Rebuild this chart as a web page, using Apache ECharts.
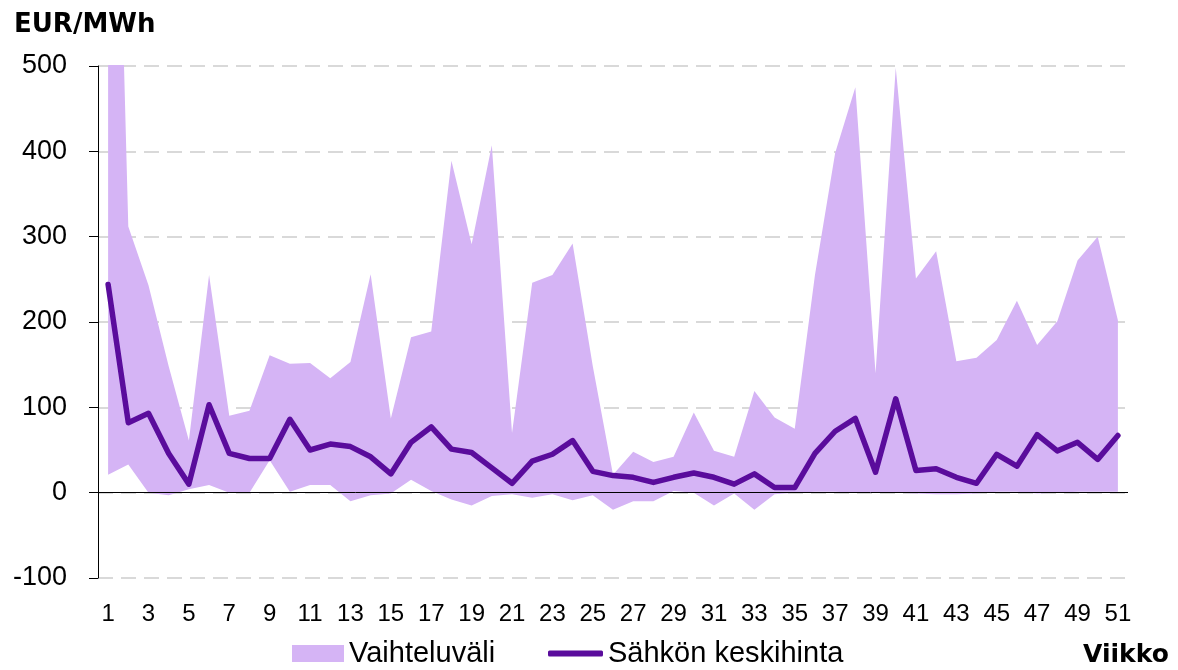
<!DOCTYPE html>
<html>
<head>
<meta charset="utf-8">
<title>Sähkön keskihinta</title>
<script src="https://cdn.jsdelivr.net/npm/echarts@6/dist/echarts.min.js"></script>
<style>
  html, body { margin: 0; padding: 0; background: #fff; }
  #chart { width: 1178px; height: 670px; }
</style>
</head>
<body>
<div id="chart"></div>
<script>
// viikot 1..51
const weeks = Array.from({ length: 51 }, (_, i) => String(i + 1));

// viikon keskihinta, EUR/MWh
const meanPrice = [
  244, 82, 93, 46, 10, 103, 46, 40, 40, 86,
  50, 57, 54, 42, 22, 59, 77, 51, 47, 29,
  11, 37, 45, 61, 25, 20, 18, 12, 18, 23,
  18, 10, 22, 6, 6, 46, 72, 87, 24, 110,
  26, 28, 18, 11, 45, 31, 68, 49, 59, 39,
  67
];

// vaihteluvälin yläraja (vko 1 menee yli asteikon)
const maxPrice = [
  1200, 312, 243, 148, 61, 255, 90, 96, 161, 151,
  152, 134, 153, 256, 87, 182, 189, 389, 291, 407,
  70, 246, 255, 292, 148, 21, 48, 36, 42, 94,
  49, 42, 119, 88, 75, 255, 398, 475, 140, 498,
  251, 283, 154, 158, 179, 225, 173, 201, 272, 300,
  202
];

// vaihteluvälin alaraja
const minPrice = [
  21, 33, 0, -3, 4, 9, 0, 0, 38, 1,
  9, 9, -10, -3, -1, 15, 2, -8, -15, -4,
  -2, -6, -2, -9, -3, -20, -10, -10, 2, 0,
  -15, -1, -20, -2, 0, 1, 1, 0, 0, 0,
  -1, -2, -2, -1, 1, 1, -1, 0, 1, 1,
  1
];

const yTicks = { min: -100, max: 500, interval: 100 };

const bandColor = '#d5b4f5';
const lineColor = '#5a0c9c';
const font = 'Liberation Sans, Arial, sans-serif';

// kaistan korkeus pinottavaksi alarajan päälle
const rangeSize = maxPrice.map((v, i) => v - minPrice[i]);

const chart = echarts.init(document.getElementById('chart'));

const option = {
  backgroundColor: '#fff',
  animation: false,
  grid: { left: 98, right: 50, top: 66, bottom: 92 },
  title: [
    {
      text: 'EUR/MWh',
      left: 14, top: 12, padding: 0,
      textStyle: { fontFamily: 'DejaVu Sans', fontWeight: 'bold', fontSize: 26, color: '#000' }
    },
    {
      text: 'Viikko',
      left: 1083, top: 643, padding: 0,
      textStyle: { fontFamily: 'DejaVu Sans', fontWeight: 'bold', fontSize: 25, color: '#000' }
    }
  ],
  legend: [
    {
      data: [{ name: 'Vaihteluväli', icon: 'rect' }],
      left: 292, top: 639, padding: 0,
      itemWidth: 52, itemHeight: 17, itemGap: 5,
      textStyle: { fontFamily: font, fontSize: 29, color: '#000' }
    },
    {
      data: [{ name: 'Sähkön keskihinta', icon: 'roundRect', itemStyle: { color: lineColor } }],
      left: 548, top: 639, padding: 0,
      itemWidth: 55, itemHeight: 6,
      textStyle: { fontFamily: font, fontSize: 29, color: '#000' }
    }
  ],
  xAxis: {
    type: 'category',
    data: weeks,
    boundaryGap: true,
    axisLine: { show: false, onZero: false },
    axisTick: { show: false },
    axisLabel: {
      interval: 1,
      margin: 24,
      fontFamily: font, fontSize: 24, color: '#000'
    },
    splitLine: { show: false }
  },
  yAxis: {
    type: 'value',
    min: yTicks.min, max: yTicks.max, interval: yTicks.interval,
    axisLine: { show: true, lineStyle: { color: '#000', width: 1 } },
    axisTick: { show: true, length: 9, lineStyle: { color: '#000' } },
    axisLabel: { margin: 31, fontFamily: font, fontSize: 27, color: '#000' },
    splitLine: { lineStyle: { color: '#d9d9d9', width: 2, type: [15, 8] } }
  },
  series: [
    {
      name: 'alaraja',
      type: 'line',
      stack: 'band',
      stackStrategy: 'all',
      data: minPrice,
      symbol: 'none',
      lineStyle: { opacity: 0 },
      silent: true
    },
    {
      name: 'Vaihteluväli',
      type: 'line',
      stack: 'band',
      stackStrategy: 'all',
      data: rangeSize,
      symbol: 'none',
      color: bandColor,
      lineStyle: { opacity: 0 },
      areaStyle: { color: bandColor, opacity: 1 },
      silent: true
    },
    {
      name: 'Sähkön keskihinta',
      type: 'line',
      data: meanPrice,
      symbol: 'none',
      color: lineColor,
      lineStyle: { color: lineColor, width: 5.5, join: 'round', cap: 'round' },
      z: 5,
      markLine: {
        silent: true,
        symbol: 'none',
        label: { show: false },
        lineStyle: { color: '#000', width: 1, type: 'solid' },
        data: [{ yAxis: 0 }]
      }
    }
  ]
};

chart.setOption(option);
</script>
</body>
</html>
